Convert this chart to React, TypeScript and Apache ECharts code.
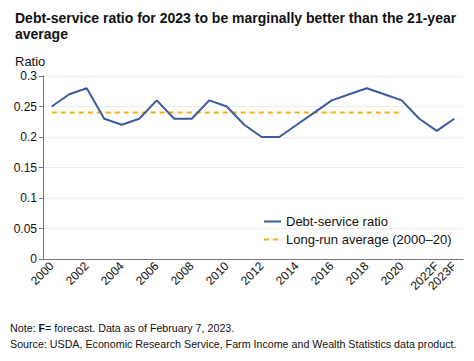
import React, { useEffect, useRef } from "react";
import * as echarts from "echarts";

const categories = [
  "2000", "2001", "2002", "2003", "2004", "2005", "2006", "2007", "2008", "2009",
  "2010", "2011", "2012", "2013", "2014", "2015", "2016", "2017", "2018", "2019",
  "2020", "2021", "2022F", "2023F",
];
const debtServiceRatio = [
  0.25, 0.27, 0.28, 0.23, 0.22, 0.23, 0.26, 0.23, 0.23, 0.26,
  0.25, 0.22, 0.2, 0.2, 0.22, 0.24, 0.26, 0.27, 0.28, 0.27,
  0.26, 0.23, 0.21, 0.23,
];
const longRunAverage = [
  0.24, 0.24, 0.24, 0.24, 0.24, 0.24, 0.24, 0.24, 0.24, 0.24,
  0.24, 0.24, 0.24, 0.24, 0.24, 0.24, 0.24, 0.24, 0.24, 0.24,
  0.24, null, null, null,
];
const yTicks = [0, 0.05, 0.1, 0.15, 0.2, 0.25, 0.3];

const FONT = "Liberation Sans, Arial, sans-serif";

export default function App() {
  const ref = useRef<HTMLDivElement>(null);
  useEffect(() => {
    const chart = echarts.init(ref.current!, null, { renderer: "svg" });
    chart.setOption({
      animation: false,
      backgroundColor: "#ffffff",
      textStyle: { fontFamily: FONT },
      title: [
        {
          text: "Debt-service ratio for 2023 to be marginally better than the 21-year\naverage",
          left: 10,
          top: 5,
          textStyle: { fontSize: 14, fontWeight: "bold", color: "#111", lineHeight: 16, fontFamily: FONT },
        },
        {
          text: "Ratio",
          left: 10,
          top: 50,
          textStyle: { fontSize: 13, fontWeight: "normal", color: "#111", fontFamily: FONT },
        },
      ],
      graphic: [
        {
          type: "text",
          left: 10,
          top: 322,
          style: {
            text: "{n|Note: }{b|F}{n|= forecast. Data as of February 7, 2023.}",
            rich: {
              n: { fontSize: 10.7, fill: "#111", fontFamily: FONT },
              b: { fontSize: 10.7, fill: "#111", fontWeight: "bold", fontFamily: FONT },
            },
          },
        },
        {
          type: "text",
          left: 10,
          top: 338,
          style: {
            text: "Source: USDA, Economic Research Service, Farm Income and Wealth Statistics data product.",
            fontSize: 10.7,
            fill: "#111",
            fontFamily: FONT,
          },
        },
      ],
      legend: {
        orient: "vertical",
        left: 258,
        top: 210,
        itemWidth: 17,
        itemHeight: 10,
        itemGap: 5,
        itemStyle: { opacity: 0 },
        textStyle: { fontSize: 13, color: "#111", fontFamily: FONT },
        data: [
          { name: "Debt-service ratio" },
          { name: "Long-run average (2000–20)" },
        ],
      },
      grid: { left: 43, right: 11, top: 76, bottom: 102, containLabel: false },
      xAxis: {
        type: "category",
        data: categories,
        boundaryGap: true,
        axisLine: { lineStyle: { color: "#777", width: 1 } },
        axisTick: { alignWithLabel: true, interval: 0, length: 4, lineStyle: { color: "#777" } },
        axisLabel: {
          rotate: 45,
          fontSize: 12,
          color: "#111",
          margin: 5,
          interval: (i: number) => i % 2 === 0 || i === 23,
        },
      },
      yAxis: {
        type: "value",
        min: 0,
        max: 0.3,
        interval: 0.05,
        axisLine: { show: true, lineStyle: { color: "#777", width: 1 } },
        axisTick: { show: true, length: 4, lineStyle: { color: "#777" } },
        splitLine: { lineStyle: { color: "#ececec", width: 1 } },
        axisLabel: {
          fontSize: 12,
          color: "#111",
          margin: 6,
          formatter: (v: number) => {
            const t = yTicks.find((x) => Math.abs(x - v) < 1e-9);
            return t === undefined ? "" : String(+t.toFixed(2));
          },
        },
      },
      series: [
        {
          name: "Debt-service ratio",
          type: "line",
          data: debtServiceRatio,
          showSymbol: false,
          symbol: "none",
          itemStyle: { color: "#3a5ba0" },
          lineStyle: { color: "#3a5ba0", width: 2 },
          z: 3,
        },
        {
          name: "Long-run average (2000–20)",
          type: "line",
          data: longRunAverage,
          showSymbol: false,
          symbol: "none",
          itemStyle: { color: "#f2b10a" },
          lineStyle: { color: "#f2b10a", width: 2, type: [5, 4] },
          z: 2,
        },
      ],
    });
    return () => chart.dispose();
  }, []);
  return (
    <div
      ref={ref}
      style={{ position: "fixed", left: 0, top: 0, width: 474, height: 361 }}
    />
  );
}
